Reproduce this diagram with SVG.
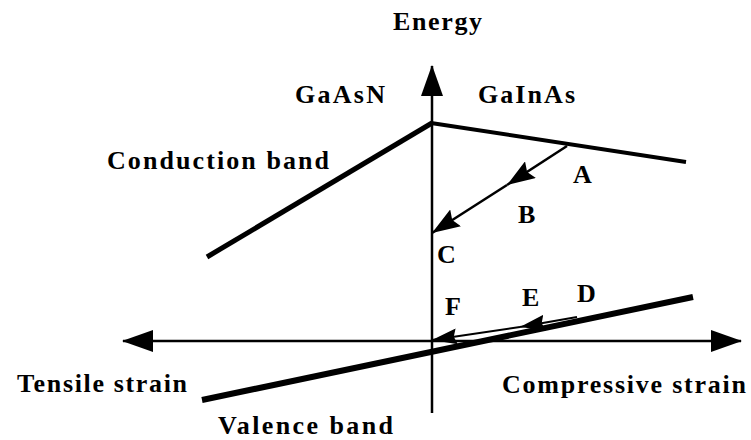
<svg xmlns="http://www.w3.org/2000/svg" width="751" height="440" viewBox="0 0 751 440">
<style>
text{font-family:"Liberation Serif","Times New Roman",serif;font-weight:bold;font-size:26px;fill:#000}
.band{stroke:#000;stroke-width:5;stroke-linecap:butt;fill:none}
.axis{stroke:#000;stroke-width:2.5;fill:none}
.arr{stroke:#000;stroke-width:2.5;fill:none}
.thin{stroke:#000;stroke-width:2;fill:none}
</style>
<defs>
<marker id="axhead" viewBox="0 0 31 22" refX="30" refY="11" markerWidth="31" markerHeight="22" markerUnits="userSpaceOnUse" orient="auto-start-reverse">
<path d="M0,0 L31,11 L0,22 Z" fill="#000"/>
</marker>
<marker id="head" viewBox="0 0 28 20" refX="28" refY="10" markerWidth="28" markerHeight="20" markerUnits="userSpaceOnUse" orient="auto">
<path d="M0,0 L28,10 L0,20 L4,10 Z" fill="#000"/>
</marker>
<marker id="small" viewBox="0 0 25 16" refX="25" refY="8" markerWidth="25" markerHeight="16" markerUnits="userSpaceOnUse" orient="auto">
<path d="M0,0 L25,8 L0,16 L3,8 Z" fill="#000"/>
</marker>
</defs>
<g id="connectors">
<line id="energy-axis" class="axis" x1="432" y1="413" x2="432" y2="66" marker-end="url(#axhead)"/>
<line id="strain-axis" class="axis" x1="123" y1="341" x2="741" y2="341" marker-start="url(#axhead)" marker-end="url(#axhead)"/>
<line id="cb-gaasn" class="band" x1="207" y1="257" x2="432" y2="123"/>
<line id="cb-gainas" class="band" x1="431" y1="123" x2="686" y2="162" style="stroke-width:4"/>
<line id="vb" class="band" x1="202" y1="400" x2="693" y2="297" style="stroke-width:6"/>
<line id="a-b" class="arr" x1="567" y1="146" x2="507" y2="185" marker-end="url(#head)"/>
<line id="b-c" class="arr" x1="507" y1="185" x2="432" y2="233" marker-end="url(#head)"/>
<line id="d-e" class="thin" x1="577" y1="317" x2="520" y2="327" marker-end="url(#small)"/>
<line id="e-f" class="thin" x1="520" y1="327" x2="432" y2="340" marker-end="url(#small)"/>
</g>
<g id="node-energy"><text x="393" y="30" textLength="89" lengthAdjust="spacing">Energy</text></g>
<g id="node-gaasn"><text x="295" y="103" textLength="90" lengthAdjust="spacing">GaAsN</text></g>
<g id="node-gainas"><text x="478" y="103" textLength="97" lengthAdjust="spacing">GaInAs</text></g>
<g id="node-conduction"><text x="107" y="169" textLength="222" lengthAdjust="spacing">Conduction band</text></g>
<g id="node-a"><text x="573" y="183">A</text></g>
<g id="node-b"><text x="518" y="223">B</text></g>
<g id="node-c"><text x="437" y="263">C</text></g>
<g id="node-d"><text x="577" y="302">D</text></g>
<g id="node-e"><text x="522" y="306">E</text></g>
<g id="node-f"><text x="445" y="315">F</text></g>
<g id="node-tensile"><text x="17" y="392" textLength="170" lengthAdjust="spacing">Tensile strain</text></g>
<g id="node-compressive"><text x="502" y="393" textLength="244" lengthAdjust="spacing">Compressive strain</text></g>
<g id="node-valence"><text x="218" y="434" textLength="175" lengthAdjust="spacing">Valence band</text></g>
</svg>
